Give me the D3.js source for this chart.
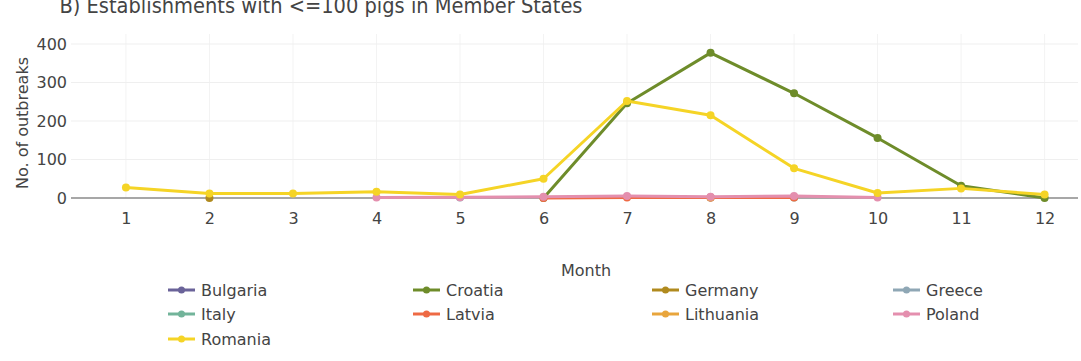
<!DOCTYPE html>
<html>
<head>
<meta charset="utf-8">
<script src="https://cdn.jsdelivr.net/npm/d3@7"></script>
<style>
  html, body { margin: 0; padding: 0; background: #fff; }
  svg { display: block; font-family: "DejaVu Sans", Verdana, sans-serif; }
</style>
</head>
<body>
<svg id="chart" width="1081" height="361"></svg>
<script>
// Monthly outbreaks in establishments with <=100 pigs, by Member State
const months = [1, 2, 3, 4, 5, 6, 7, 8, 9, 10, 11, 12];
const yTicks = [0, 100, 200, 300, 400];
const countries = ["Bulgaria", "Croatia", "Germany", "Greece", "Italy", "Latvia", "Lithuania", "Poland", "Romania"];
const colors = ["#6a6399", "#6e8c2a", "#b08a1e", "#8fa7b5", "#72b49a", "#ee6a44", "#e8a53c", "#e48fae", "#f5d426"];

// Each series: [month, outbreaks]
const bulgaria  = [[8, 1]];
const croatia   = [[6, 0], [7, 246], [8, 377], [9, 272], [10, 156], [11, 32], [12, 0]];
const germany   = [[2, 0]];
const greece    = [[5, 1]];
const italy     = [[9, 1]];
const latvia    = [[6, 0], [7, 1], [8, 1], [9, 1]];
const lithuania = [[8, 1]];
const poland    = [[4, 1], [5, 2], [6, 3], [7, 5], [8, 3], [9, 5], [10, 1]];
const romania   = [[1, 27], [2, 12], [3, 12], [4, 16], [5, 9], [6, 50], [7, 252], [8, 215], [9, 77], [10, 13], [11, 25], [12, 9]];

const seriesData = [bulgaria, croatia, germany, greece, italy, latvia, lithuania, poland, romania];

const svg = d3.select("#chart");
const margin = { left: 71, right: 3 };
const W = 1081;

const x = d3.scaleLinear().domain([0.342, 12.4]).range([margin.left, W - margin.right]);
const y = d3.scaleLinear().domain([0, 400]).range([198, 44]);

const textColor = "#444";

// Title, sitting at the very top of the figure
svg.append("text")
  .attr("x", 321).attr("y", 13)
  .attr("text-anchor", "middle")
  .attr("font-family", "DejaVu Sans Condensed, DejaVu Sans, sans-serif")
  .attr("font-size", 21)
  .attr("textLength", 523)
  .attr("lengthAdjust", "spacingAndGlyphs")
  .attr("fill", textColor)
  .text("B) Establishments with <=100 pigs in Member States");

// Grid lines
const grid = svg.append("g");
grid.selectAll("line.v").data(months).join("line")
  .attr("x1", d => x(d)).attr("x2", d => x(d))
  .attr("y1", y(400) - 10).attr("y2", y(0))
  .attr("stroke", "#f3f3f3").attr("stroke-width", 1);
grid.selectAll("line.h").data(yTicks.filter(d => d > 0)).join("line")
  .attr("x1", margin.left).attr("x2", W - margin.right)
  .attr("y1", d => y(d)).attr("y2", d => y(d))
  .attr("stroke", "#efefef").attr("stroke-width", 1);

// Y axis
const yAxis = d3.axisLeft(y).tickValues(yTicks).tickSize(0).tickPadding(4);
const gy = svg.append("g").attr("transform", `translate(${margin.left},0)`).call(yAxis);
gy.select(".domain").remove();
gy.selectAll("text").attr("font-size", 16).attr("fill", textColor)
  .attr("font-family", "DejaVu Sans, sans-serif");

// X axis
const xAxis = d3.axisBottom(x).tickValues(months).tickSize(0).tickPadding(15);
const gx = svg.append("g").attr("transform", `translate(0,${y(0)})`).call(xAxis);
gx.select(".domain").remove();
gx.selectAll("text").attr("font-size", 16).attr("fill", textColor)
  .attr("font-family", "DejaVu Sans, sans-serif");

// Zero line
svg.append("line")
  .attr("x1", margin.left).attr("x2", W - margin.right)
  .attr("y1", y(0)).attr("y2", y(0))
  .attr("stroke", "#8a8a8a").attr("stroke-width", 1.5);

// Axis titles
svg.append("text")
  .attr("transform", `translate(28,${123}) rotate(-90)`)
  .attr("text-anchor", "middle")
  .attr("font-size", 16).attr("fill", textColor)
  .text("No. of outbreaks");
svg.append("text")
  .attr("x", 586).attr("y", 276)
  .attr("text-anchor", "middle")
  .attr("font-size", 16).attr("fill", textColor)
  .text("Month");

// Series lines and markers
const line = d3.line().x(d => x(d[0])).y(d => y(d[1]));
seriesData.forEach((data, i) => {
  const g = svg.append("g");
  g.append("path").datum(data)
    .attr("d", line)
    .attr("fill", "none")
    .attr("stroke", colors[i])
    .attr("stroke-width", 3)
    .attr("stroke-linejoin", "round");
  g.selectAll("circle").data(data).join("circle")
    .attr("cx", d => x(d[0])).attr("cy", d => y(d[1]))
    .attr("r", 4).attr("fill", colors[i]);
});

// Legend: 4 columns, 3 rows
const colX = [168, 413, 652, 893];
const rowY = [290, 314, 339];
const legend = svg.append("g");
countries.forEach((name, i) => {
  const cx = colX[i % 4], cy = rowY[Math.floor(i / 4)];
  const item = legend.append("g").attr("transform", `translate(${cx},${cy})`);
  item.append("line").attr("x1", 0).attr("x2", 27).attr("y1", 0).attr("y2", 0)
    .attr("stroke", colors[i]).attr("stroke-width", 3);
  item.append("circle").attr("cx", 13.5).attr("cy", 0).attr("r", 3.5).attr("fill", colors[i]);
  item.append("text").attr("x", 33).attr("y", 0).attr("dy", "0.35em")
    .attr("font-size", 16).attr("fill", textColor).text(name);
});
</script>
</body>
</html>
